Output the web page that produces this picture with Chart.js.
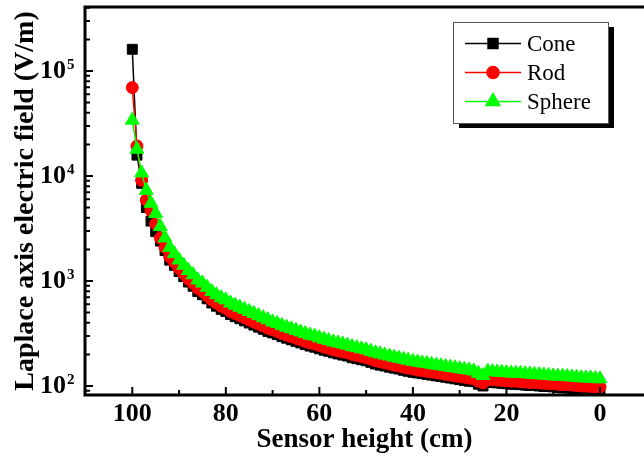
<!DOCTYPE html>
<html lang="en">
<head>
  <meta charset="UTF-8">
  <title>Laplace axis electric field</title>
  <script src="https://cdn.jsdelivr.net/npm/chart.js@4"></script>
  <style>
    html, body { margin: 0; padding: 0; background: #fff; }
    #chart { display: block; }
  </style>
</head>
<body>
  <canvas id="chart" width="644" height="464"></canvas>

  <script>
    // Sensor height (cm), from 100 down to 0
    const heights = [
      100, 99, 98, 97, 96, 95, 94, 93, 92, 91,
      90, 89, 88, 87, 86, 85, 84, 83, 82, 81,
      80, 79, 78, 77, 76, 75, 74, 73, 72, 71,
      70, 69, 68, 67, 66, 65, 64, 63, 62, 61,
      60, 59, 58, 57, 56, 55, 54, 53, 52, 51,
      50, 49, 48, 47, 46, 45, 44, 43, 42, 41,
      40, 39, 38, 37, 36, 35, 34, 33, 32, 31,
      30, 29, 28, 27, 26, 25, 24, 23, 22, 21,
      20, 19, 18, 17, 16, 15, 14, 13, 12, 11,
      10, 9, 8, 7, 6, 5, 4, 3, 2, 1,
      0
    ];

    // Laplace axis electric field (V/m)
    const cone = [
      161000, 15800, 8510, 5010, 3720, 2950, 2400, 1950, 1580, 1410,
      1230, 1100, 977, 891, 794, 741, 676, 617, 575, 537,
      513, 479, 457, 437, 417, 398, 380, 363, 347, 331,
      320, 309, 295, 285, 275, 266, 257, 248, 240, 234,
      226, 219, 214, 207, 202, 197, 193, 186, 182, 178,
      174, 168, 162, 158, 155, 151, 148, 145, 141, 138,
      135, 133, 131, 129, 127, 125, 123, 121, 119, 117,
      115, 113, 111, 110, 104, 100, 108, 108, 107, 106,
      105, 104, 104, 103, 102, 101, 101, 100, 99, 99,
      98, 97, 96, 96, 95, 94, 94, 93, 92, 92,
      92
    ];
    const rod = [
      69500, 19300, 9100, 5900, 4700, 3500, 2570, 2090, 1700, 1510,
      1320, 1175, 1047, 955, 851, 794, 724, 661, 617, 575,
      550, 513, 490, 468, 447, 427, 407, 389, 372, 355,
      343, 331, 316, 305, 295, 285, 275, 266, 257, 251,
      243, 234, 229, 221, 216, 211, 207, 200, 195, 191,
      186, 180, 174, 170, 166, 162, 158, 155, 151, 148,
      145, 142, 140, 138, 136, 134, 132, 129, 127, 125,
      123, 121, 119, 117, 111, 107, 115, 115, 114, 113,
      112, 111, 111, 110, 109, 108, 108, 107, 106, 105,
      105, 104, 103, 103, 102, 101, 100, 100, 99, 98,
      98
    ];
    const sphere = [
      34000, 18000, 10700, 7300, 5500, 4400, 3300, 2570, 2090, 1820,
      1585, 1413, 1259, 1148, 1023, 955, 871, 794, 741, 692,
      661, 617, 589, 562, 537, 513, 490, 468, 447, 427,
      407, 394, 376, 363, 351, 339, 327, 316, 305, 299,
      288, 279, 272, 263, 257, 251, 245, 237, 232, 226,
      221, 214, 207, 202, 197, 193, 188, 184, 180, 176,
      172, 169, 166, 164, 161, 158, 156, 153, 151, 149,
      146, 144, 142, 139, 132, 126, 138, 137, 136, 135,
      134, 133, 132, 132, 131, 130, 129, 128, 127, 126,
      125, 124, 124, 123, 122, 121, 120, 119, 119, 118,
      117
    ];

    const seriesNames = ['Cone', 'Rod', 'Sphere'];
    const xMajor = [0, 20, 40, 60, 80, 100];
    const xMinor = [10, 30, 50, 70, 90];
    const yMajor = [1e2, 1e3, 1e4, 1e5];

    const serif = 'Liberation Serif, Times New Roman, serif';

    const toPoints = vals => heights.map((h, i) => ({ x: h, y: vals[i] }));

    // Moldura (esquerda, topo, base) com ticks para dentro e expoentes do eixo y
    const framePlugin = {
      id: 'frame',
      afterDraw(chart) {
        const { ctx, chartArea: a, scales: { x, y } } = chart;
        ctx.save();
        ctx.strokeStyle = '#000';
        ctx.lineWidth = 3;
        ctx.beginPath();
        ctx.moveTo(a.right, a.top);
        ctx.lineTo(a.left, a.top);
        ctx.lineTo(a.left, a.bottom);
        ctx.lineTo(a.right, a.bottom);
        ctx.stroke();

        ctx.lineWidth = 2;
        ctx.beginPath();
        xMajor.forEach(v => {
          const px = x.getPixelForValue(v);
          ctx.moveTo(px, a.bottom); ctx.lineTo(px, a.bottom - 8);
        });
        xMinor.forEach(v => {
          const px = x.getPixelForValue(v);
          ctx.moveTo(px, a.bottom); ctx.lineTo(px, a.bottom - 5);
        });
        yMajor.forEach(v => {
          const py = y.getPixelForValue(v);
          ctx.moveTo(a.left, py); ctx.lineTo(a.left + 8, py);
        });
        [10, 100, 1e3, 1e4, 1e5].forEach(dec => {
          for (let m = 2; m <= 9; m++) {
            const v = dec * m;
            if (v < y.min || v > y.max) continue;
            const py = y.getPixelForValue(v);
            ctx.moveTo(a.left, py); ctx.lineTo(a.left + 5, py);
          }
        });
        ctx.stroke();

        // expoentes "10^n"
        ctx.fillStyle = '#000';
        ctx.font = 'bold 15px ' + serif;
        ctx.textAlign = 'left';
        ctx.textBaseline = 'alphabetic';
        yMajor.forEach(v => {
          const py = y.getPixelForValue(v);
          ctx.fillText(String(Math.round(Math.log10(v))), a.left - 18, py - 2);
        });
        ctx.restore();
      }
    };

    // Legenda em caixa com sombra
    const legendPlugin = {
      id: 'boxLegend',
      afterDraw(chart) {
        const ctx = chart.ctx;
        const bx = 453, by = 22, bw = 155, bh = 101;
        ctx.save();
        ctx.fillStyle = '#000';
        ctx.fillRect(bx + 6, by + 5, bw, bh);
        ctx.fillStyle = '#fff';
        ctx.fillRect(bx, by, bw, bh);
        ctx.strokeStyle = '#555';
        ctx.lineWidth = 1;
        ctx.strokeRect(bx + 0.5, by + 0.5, bw, bh);

        chart.data.datasets.forEach((ds, i) => {
          const yy = by + 21.5 + i * 29;
          ctx.strokeStyle = ds.borderColor;
          ctx.lineWidth = 1.5;
          ctx.beginPath();
          ctx.moveTo(465, yy); ctx.lineTo(521, yy);
          ctx.stroke();
          ctx.fillStyle = ds.backgroundColor;
          Chart.helpers.drawPoint(ctx, {
            pointStyle: ds.pointStyle, radius: ds.pointRadius, rotation: 0, borderWidth: 1
          }, 493, yy);
          ctx.fillStyle = '#000';
          ctx.font = '23px ' + serif;
          ctx.textAlign = 'left';
          ctx.textBaseline = 'middle';
          ctx.fillText(ds.label, 527, yy + 1);
        });
        ctx.restore();
      }
    };

    new Chart(document.getElementById('chart'), {
      type: 'line',
      data: {
        datasets: [
          { label: seriesNames[0], data: toPoints(cone), borderColor: '#000', backgroundColor: '#000',
            pointStyle: 'rect', pointRadius: 7, order: 2 },
          { label: seriesNames[1], data: toPoints(rod), borderColor: '#ff0000', backgroundColor: '#ff0000',
            pointStyle: 'circle', pointRadius: 6, order: 1 },
          { label: seriesNames[2], data: toPoints(sphere), borderColor: '#00ff00', backgroundColor: '#00ff00',
            pointStyle: 'triangle', pointRadius: 8, order: 0 }
        ].map(d => Object.assign(d, { borderWidth: 1.5, pointBorderWidth: 1, tension: 0 }))
      },
      options: {
        responsive: false,
        animation: false,
        events: [],
        layout: { autoPadding: false, padding: { top: 7, right: 0, left: 0, bottom: 0 } },
        plugins: { legend: { display: false }, tooltip: { enabled: false } },
        scales: {
          x: {
            type: 'linear',
            reverse: true,
            min: -9.41,
            max: 110.11,
            afterBuildTicks: s => { s.ticks = xMajor.map(v => ({ value: v })); },
            afterFit: s => { s.height = 69; s.paddingLeft = 0; s.paddingRight = 0; },
            grid: { display: false, drawTicks: false, tickLength: 0 },
            border: { display: false },
            ticks: {
              color: '#000', padding: 4, maxRotation: 0, autoSkip: false,
              font: { family: serif, size: 26, weight: 'bold' }
            },
            title: {
              display: true, text: 'Sensor height (cm)', color: '#000',
              font: { family: serif, size: 27, weight: 'bold' },
              padding: { top: 0, bottom: 8 }
            }
          },
          y: {
            type: 'logarithmic',
            min: 82.1,
            max: 4.07e5,
            afterBuildTicks: s => { s.ticks = yMajor.map(v => ({ value: v })); },
            afterFit: s => { s.width = 85; s.paddingTop = 0; s.paddingBottom = 0; },
            grid: { display: false, drawTicks: false, tickLength: 0 },
            border: { display: false },
            ticks: {
              color: '#000', padding: 19, autoSkip: false,
              font: { family: serif, size: 26, weight: 'bold' },
              callback: () => '10'
            },
            title: {
              display: true, text: 'Laplace axis electric field (V/m)', color: '#000',
              font: { family: serif, size: 28, weight: 'bold' },
              padding: { top: 9, bottom: 0 }
            }
          }
        }
      },
      plugins: [framePlugin, legendPlugin]
    });
  </script>
</body>
</html>
